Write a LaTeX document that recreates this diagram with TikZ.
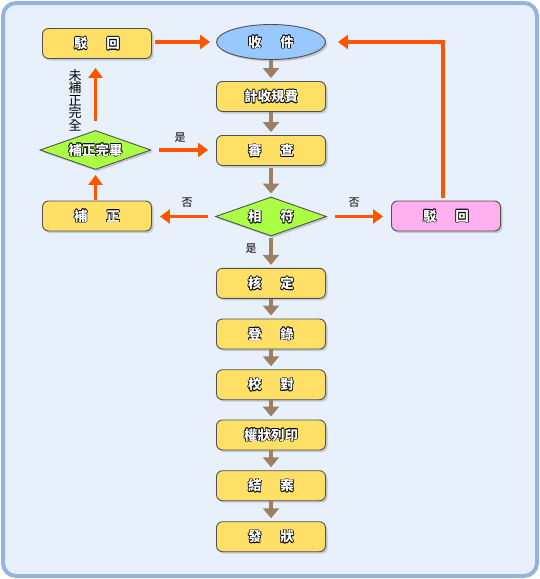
\documentclass[tikz,border=0pt]{standalone}
\usepackage{fontspec}
\setmainfont{Noto Sans CJK TC}
\usetikzlibrary{shapes.geometric,arrows.meta,shadows}
\definecolor{bgfill}{HTML}{E8F0FC}
\definecolor{bgline}{HTML}{94B4DC}
\definecolor{boxy}{HTML}{FFE066}
\definecolor{boxb}{HTML}{99C8FF}
\definecolor{boxg}{HTML}{AAFF44}
\definecolor{boxp}{HTML}{FFB0EE}
\definecolor{orng}{HTML}{FF5500}
\definecolor{brwn}{HTML}{9C8064}
\definecolor{edge}{HTML}{505050}
\newcommand\olt[1]{\leavevmode\rlap{\color{black}\kern-0.7pt#1}\rlap{\color{black}\kern0.7pt#1}\rlap{\color{black}\raisebox{0.7pt}{#1}}\rlap{\color{black}\raisebox{-0.7pt}{#1}}\rlap{\color{black}\kern0.5pt\raisebox{0.5pt}{#1}}\rlap{\color{black}\kern-0.5pt\raisebox{-0.5pt}{#1}}\rlap{\color{black}\kern0.5pt\raisebox{-0.5pt}{#1}}\rlap{\color{black}\kern-0.5pt\raisebox{0.5pt}{#1}}{\color{white}#1}}
\newcommand\gapsp{\hspace{19pt}}
\tikzset{
  base/.style={draw=edge, line width=0.9pt, inner sep=0pt, font=\fontsize{13.5}{13.5}\selectfont\bfseries,
    drop shadow={shadow xshift=2pt, shadow yshift=-2pt, opacity=0.35}},
  ybox/.style={base, fill=boxy, rounded corners=6pt, minimum width=109pt, minimum height=30pt},
  pbox/.style={base, fill=boxp, rounded corners=6pt, minimum width=109pt, minimum height=30pt},
  ebox/.style={base, fill=boxb, ellipse, minimum width=109pt, minimum height=35pt},
  gdia/.style={base, fill=boxg, diamond, aspect=2.85, minimum width=111pt, minimum height=39pt},
  oarr/.style={orng, line width=3.2pt, -{Triangle[width=14pt,length=10pt]}},
  barr/.style={brwn, line width=3.5pt, -{Triangle[width=16pt,length=10pt]}},
  lbl/.style={font=\fontsize{11}{11}\selectfont, inner sep=0pt}
}
\begin{document}
\begin{tikzpicture}[x=1pt,y=-1pt]
\useasboundingbox (0,0) rectangle (540,579);
\draw[bgline, fill=bgfill, line width=4pt, rounded corners=13pt] (3,3) rectangle (537,576);
% nodes
\node[ybox] (bo1) at (97,43.5) {\olt{駁\gapsp 回}};
\node[ebox] (shou) at (271,42) {\olt{收\gapsp 件}};
\node[ybox] (fee) at (271,96.5) {\olt{計收規費}};
\node[ybox] (shen) at (271,150.5) {\olt{審\gapsp 查}};
\node[gdia] (xf) at (271,216.5) {\olt{相\gapsp 符}};
\node[gdia] (wb) at (95.5,150) {\olt{補正完畢}};
\node[ybox] (bz) at (97,216) {\olt{補\gapsp 正}};
\node[pbox] (bo2) at (446,216) {\olt{駁\gapsp 回}};
\node[ybox] (hd) at (271,283.3) {\olt{核\gapsp 定}};
\node[ybox] (dl) at (271,334) {\olt{登\gapsp 錄}};
\node[ybox] (jd) at (271,384.7) {\olt{校\gapsp 對}};
\node[ybox] (qz) at (271,435) {\olt{權狀列印}};
\node[ybox] (ja) at (271,485.7) {\olt{結\gapsp 案}};
\node[ybox] (fz) at (271,536.7) {\olt{發\gapsp 狀}};
% brown arrows
\draw[barr] (shou.south) -- ([yshift=3pt]fee.north);
\draw[barr] (fee.south) -- ([yshift=3pt]shen.north);
\draw[barr] ([yshift=-2pt]shen.south) -- ([yshift=3pt]xf.north);
\draw[barr] ([yshift=-2pt]xf.south) -- ([yshift=3pt]hd.north);
\draw[barr] (hd.south) -- ([yshift=3pt]dl.north);
\draw[barr] (dl.south) -- ([yshift=3pt]jd.north);
\draw[barr] (jd.south) -- ([yshift=3pt]qz.north);
\draw[barr] (qz.south) -- ([yshift=3pt]ja.north);
\draw[barr] (ja.south) -- ([yshift=3pt]fz.north);
% orange arrows
\draw[oarr] ([xshift=3pt]bo1.east |- shou.west) -- ([xshift=-6pt]shou.west);
\draw[oarr] ([xshift=8pt]wb.east) -- ([xshift=-8pt]wb.east -| shen.west);
\draw[oarr] ([xshift=-7pt]xf.west) -- ([xshift=8pt]xf.west -| bz.east);
\draw[oarr] ([xshift=8pt]xf.east) -- ([xshift=-8pt]xf.east -| bo2.west);
\coordinate (turn) at (443,42);
\draw[oarr] ([yshift=3pt]bo2.north -| turn) -- (turn) -- ([xshift=12pt]shou.east);
\draw[oarr] ([yshift=1pt]bz.north -| wb.south) -- ([yshift=-5pt]wb.south);
\draw[oarr] ([yshift=9pt]wb.north) -- ([yshift=-9pt]bo1.south -| wb.north);
% labels
\node[lbl] (l1) at (180,138) {是};
\node[lbl] (l2) at (187,203) {否};
\node[lbl] (l3) at (354,203) {否};
\node[lbl] (l4) at (251,249) {是};
\node[lbl, font=\fontsize{13}{13}\selectfont, align=center] (l5) at (75,100) {未\\[-0.5pt]補\\[-0.5pt]正\\[-0.5pt]完\\[-0.5pt]全};
\end{tikzpicture}
\end{document}
